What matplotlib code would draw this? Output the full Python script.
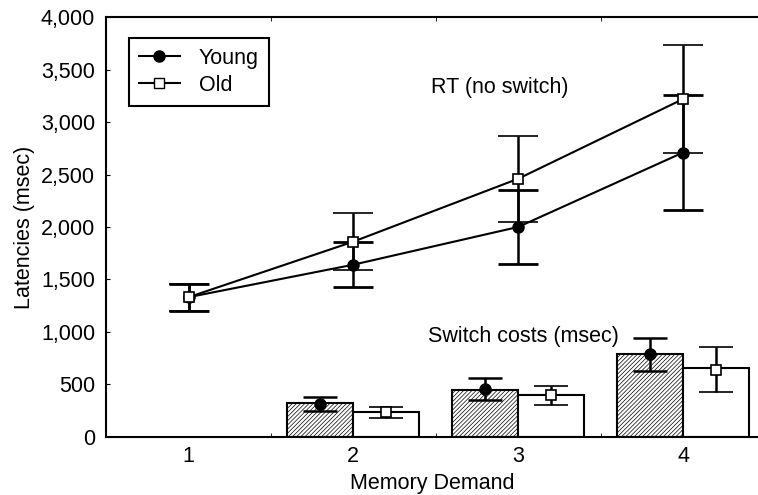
import matplotlib
matplotlib.use("Agg")
import matplotlib.pyplot as plt
import numpy as np
from matplotlib.ticker import FuncFormatter, FixedLocator
from matplotlib.lines import Line2D

plt.rcParams['font.family'] = ['Liberation Sans', 'DejaVu Sans']
plt.rcParams['hatch.linewidth'] = 0.5

# Data
demand = [1, 2, 3, 4]
rt_young = [1330, 1640, 2000, 2710]
rt_young_err = [130, 215, 350, 550]
rt_old = [1330, 1860, 2460, 3220]
rt_old_err = [130, 275, 410, 515]

sc_demand = [2, 3, 4]
sc_young = [318, 445, 786]
sc_young_pt = [310, 450, 785]
sc_young_err = [70, 105, 160]
sc_old = [238, 398, 652]
sc_old_pt = [230, 395, 640]
sc_old_err = [52, 90, 210]

FS = 15.5

fig = plt.figure(figsize=(7.58, 4.95), dpi=100)
ax = fig.add_axes([0.14, 0.118, 0.86, 0.847])

bw = 0.4
xs_y = np.array(sc_demand) - bw / 2
xs_o = np.array(sc_demand) + bw / 2
ax.bar(xs_y, sc_young, width=bw, color='white', edgecolor='black', hatch='////////', linewidth=1.5, zorder=2)
ax.bar(xs_o, sc_old, width=bw, color='white', edgecolor='black', linewidth=1.5, zorder=2)
ax.errorbar(xs_y, sc_young_pt, yerr=sc_young_err, fmt='o', color='black', markersize=8,
            capsize=12, elinewidth=1.8, capthick=1.8, zorder=4)
ax.errorbar(xs_o, sc_old_pt, yerr=sc_old_err, fmt='s', color='black', markerfacecolor='white',
            markeredgecolor='black', markersize=7, markeredgewidth=1.2,
            capsize=12, elinewidth=1.8, capthick=1.8, zorder=4)

# RT lines
ax.errorbar(demand, rt_young, yerr=rt_young_err, fmt='-o', color='black', markersize=8,
            linewidth=1.5, capsize=14.7, elinewidth=1.8, capthick=2.0, zorder=5)
ax.errorbar(demand, rt_old, yerr=rt_old_err, fmt='-s', color='black', markerfacecolor='white',
            markeredgecolor='black', markersize=7, markeredgewidth=1.2,
            linewidth=1.5, capsize=14.7, elinewidth=1.8, capthick=2.0, zorder=6)

ax.text(2.47, 3335, 'RT (no switch)', fontsize=FS, va='center', ha='left')
ax.text(2.45, 954, 'Switch costs (msec)', fontsize=FS, va='center', ha='left')

ax.set_xlim(0.5, 4.455)
ax.set_ylim(0, 4000)
ax.set_xticks(demand)
ax.xaxis.set_minor_locator(FixedLocator([1.5, 2.5, 3.5]))
ax.set_yticks(np.arange(0, 4001, 500))
ax.yaxis.set_major_formatter(FuncFormatter(lambda v, p: f'{int(v):,}'))
ax.tick_params(axis='x', which='major', length=0, labelsize=FS, pad=7)
ax.tick_params(axis='x', which='minor', length=3, direction='in', top=True, bottom=True)
ax.tick_params(axis='y', which='major', length=3, direction='in', labelsize=FS, pad=8)

for s in ['left', 'bottom', 'top']:
    ax.spines[s].set_linewidth(1.5)
ax.spines['right'].set_visible(False)

ax.set_xlabel('Memory Demand', fontsize=FS, labelpad=4)
ax.set_ylabel('Latencies (msec)', fontsize=FS, labelpad=4)

h_y = Line2D([], [], color='black', marker='o', markersize=8, linewidth=1.5)
h_o = Line2D([], [], color='black', marker='s', markerfacecolor='white', markersize=7, linewidth=1.5)
leg = ax.legend([h_y, h_o], ['Young', 'Old'], loc='upper left', bbox_to_anchor=(0.035, 0.951),
                borderaxespad=0, fontsize=FS, frameon=True, fancybox=False, edgecolor='black',
                framealpha=1, handlelength=1.9, borderpad=0.45, labelspacing=0.3, handletextpad=0.9)
leg.get_frame().set_linewidth(1.5)

fig.savefig('out.png', dpi=100)
